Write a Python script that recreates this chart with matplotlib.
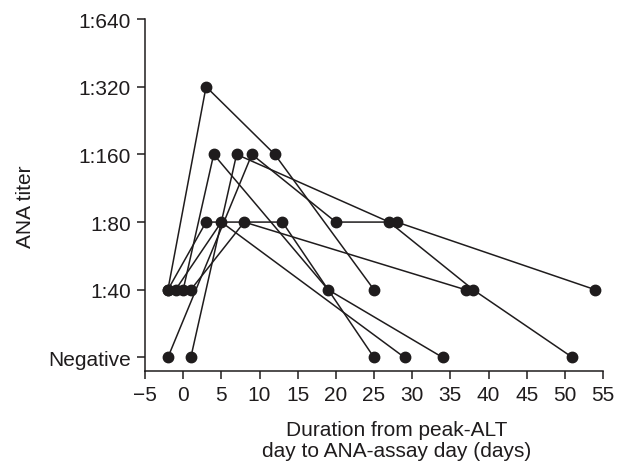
import matplotlib
matplotlib.use("Agg")
import matplotlib.pyplot as plt

plt.rcParams['font.family'] = ['Liberation Sans', 'DejaVu Sans']

# titer levels: 0=Negative, 1=1:40, 2=1:80, 3=1:160, 4=1:320, 5=1:640
titer_labels = ["Negative", "1:40", "1:80", "1:160", "1:320", "1:640"]
x_ticks = [-5, 0, 5, 10, 15, 20, 25, 30, 35, 40, 45, 50, 55]

days_p1 = [-2, 3, 12, 25]
titer_p1 = [1, 4, 3, 1]
days_p2 = [0, 4, 19, 34]
titer_p2 = [1, 3, 1, 0]
days_p3 = [1, 7, 27, 38, 51]
titer_p3 = [0, 3, 2, 1, 0]
days_p4 = [-2, 9, 20, 28, 54]
titer_p4 = [0, 3, 2, 2, 1]
days_p5 = [-1, 5, 29]
titer_p5 = [1, 2, 0]
days_p6 = [1, 8, 37]
titer_p6 = [1, 2, 1]
days_p7 = [-2, 3, 13, 25]
titer_p7 = [1, 2, 2, 0]

patients = [(days_p1, titer_p1), (days_p2, titer_p2), (days_p3, titer_p3),
            (days_p4, titer_p4), (days_p5, titer_p5), (days_p6, titer_p6),
            (days_p7, titer_p7)]

color = '#1f1c1d'
fig = plt.figure(figsize=(6.23, 4.64), dpi=100)
ax = fig.add_axes([145/623, 1-372/464, (603-145)/623, (372-20)/464])

for d, t in patients:
    ax.plot(d, t, '-o', color=color, lw=1.1, markersize=7.5, clip_on=False)

ax.set_xlim(-5, 55)
ax.set_ylim(-0.2, 5)
ax.set_xticks(x_ticks)
ax.set_xticklabels([str(v).replace('-', '\u2212') for v in x_ticks])
ax.set_yticks(range(len(titer_labels)))
ax.set_yticklabels(titer_labels)
for s in ['top', 'right']:
    ax.spines[s].set_visible(False)
for s in ['left', 'bottom']:
    ax.spines[s].set_color(color)
    ax.spines[s].set_linewidth(1.1)
ax.tick_params(axis='both', direction='out', length=6, width=1.1, color=color,
               labelsize=15, labelcolor=color, pad=4)

ax.set_ylabel("ANA titer", fontsize=15, color=color)
ax.yaxis.set_label_coords(-0.24, 0.47)
ax.set_xlabel("Duration from peak-ALT\nday to ANA-assay day (days)", fontsize=15,
              color=color, linespacing=1.1)
ax.xaxis.set_label_coords(0.55, -0.14)
ax.xaxis.label.set_va('top')

fig.savefig("out.png", dpi=100)
